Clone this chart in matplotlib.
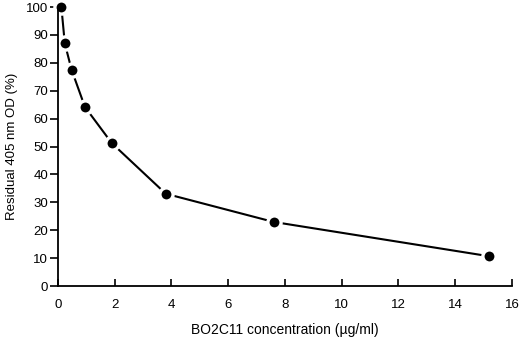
import matplotlib.pyplot as plt

plt.rcParams['font.family'] = ['Liberation Sans', 'DejaVu Sans']

conc = [0.12, 0.24, 0.48, 0.95, 1.9, 3.8, 7.6, 15.2]
residual = [100, 87, 77.5, 64.2, 51.2, 33.1, 23.0, 10.7]

fig = plt.figure(figsize=(5.2, 3.37), dpi=100)
ax = fig.add_axes([0.1115, 0.151, 0.873, 0.828])

ax.plot(conc, residual, color='black', lw=1.5, marker='o', ms=9.5,
        mfc='black', mec='white', mew=2.4, clip_on=False)

ax.set_xlim(0, 16)
ax.set_ylim(0, 100)
ax.set_xticks(range(0, 17, 2))
ax.set_yticks(range(0, 101, 10))
ax.spines['top'].set_visible(False)
ax.spines['right'].set_visible(False)
ax.spines['left'].set_linewidth(1.3)
ax.spines['bottom'].set_linewidth(1.3)
ax.tick_params(axis='x', direction='in', length=5, width=1.2, labelsize=9.5, pad=9)
ax.tick_params(axis='y', direction='out', length=5.5, width=1.2, labelsize=9.5, pad=1.5)

ax.set_xlabel('BO2C11 concentration (\u00b5g/ml)', fontsize=10, labelpad=9)
ax.set_ylabel('Residual 405 nm OD (%)', fontsize=9.5, labelpad=6)

fig.savefig('out.png', dpi=100)
